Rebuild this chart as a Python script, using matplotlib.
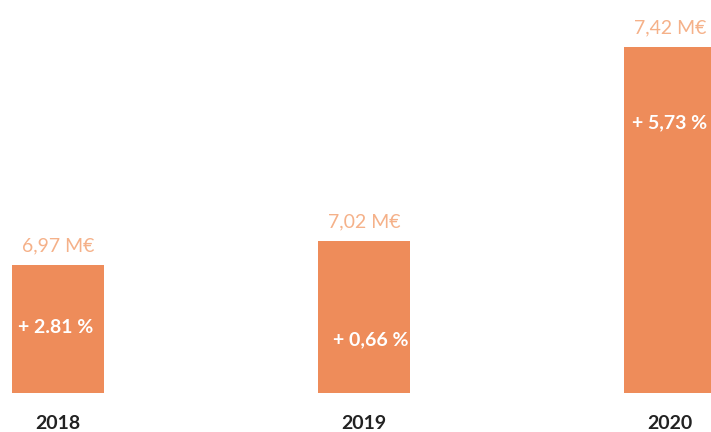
import matplotlib.pyplot as plt
import matplotlib.transforms as mtransforms

# valeurs
annees = ["2018", "2019", "2020"]
valeurs = [6.97, 7.02, 7.42]
etiquettes = ["6,97 M€", "7,02 M€", "7,42 M€"]
evolutions = ["+ 2.81 %", "+ 0,66 %", "+ 5,73 %"]

# mise en page (axe tronqué comme sur l'original)
base = 6.706
pos_evol = [0.515, 0.35, 0.78]      # hauteur relative du texte dans la barre
decal_evol = [-2, 5, 0]             # petit décalage horizontal en points

orange = "#EE8C5A"
orange_clair = "#F5B189"

plt.rcParams['font.family'] = ['Lato', 'DejaVu Sans']

fig = plt.figure(figsize=(7.11, 4.32), dpi=100)
ax = fig.add_axes([0, 0, 1, 1])
ax.axis("off")

x = list(range(len(annees)))
hauteurs = [v - base for v in valeurs]
barres = ax.bar(x, hauteurs, bottom=base, width=0.30, color=orange)

ax.set_xlim(-0.19, 2.134)
ax.set_ylim(6.6255, 7.517)

for i, b in enumerate(barres):
    cx = b.get_x() + b.get_width() / 2
    haut = b.get_y() + b.get_height()
    ax.annotate(etiquettes[i], (cx, haut), xytext=(0, 10), textcoords="offset points",
                ha="center", va="baseline", fontsize=14, color=orange_clair)
    ax.annotate(evolutions[i], (cx, base + b.get_height() * pos_evol[i]),
                xytext=(decal_evol[i], 0), textcoords="offset points",
                ha="center", va="center", fontsize=14, fontweight="bold", color="white")

trans = mtransforms.blended_transform_factory(ax.transData, ax.transAxes)
for i, a in enumerate(annees):
    ax.text(x[i], 0.02, a, transform=trans, ha="center", va="center",
            fontsize=14, fontweight="bold", color="#222222")

fig.savefig("out.png", dpi=100)
